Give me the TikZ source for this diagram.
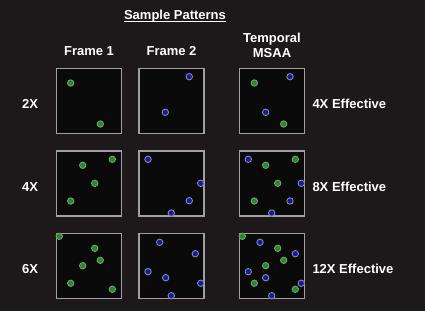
\documentclass[tikz,border=0pt]{standalone}
\usepackage{fontspec}
\setmainfont{Liberation Sans}
\definecolor{bgc}{RGB}{29,24,26}
\definecolor{boxfill}{RGB}{10,10,10}
\definecolor{boxline}{RGB}{160,160,160}
\definecolor{dotline}{RGB}{140,140,140}
\definecolor{gdot}{RGB}{20,150,25}
\definecolor{bdot}{RGB}{20,20,185}
\tikzset{
  lbl/.style={text=white, font=\bfseries\fontsize{13}{15}\selectfont, inner sep=0pt},
  sbox/.style={draw=boxline, fill=boxfill, line width=1.3pt, minimum width=65pt, minimum height=65pt, inner sep=0pt},
  gd/.style={circle, draw=dotline, fill=gdot, line width=0.9pt, minimum size=6.4pt, inner sep=0pt},
  bd/.style={circle, draw=dotline, fill=bdot, line width=0.9pt, minimum size=6.4pt, inner sep=0pt}
}
\begin{document}
\begin{tikzpicture}[x=1pt,y=-1pt]
\fill[bgc] (0,0) rectangle (425,311);
\useasboundingbox (0,0) rectangle (425,311);
% title
\node[lbl, anchor=base] (title) at (175,19.6) {Sample Patterns};
\draw[white, line width=1pt] ([yshift=-2pt]title.base west) -- ([yshift=-2pt]title.base east);
% column headers
\node[lbl, anchor=base] (h1) at (89,55.3) {Frame 1};
\node[lbl, anchor=base] (h2) at (171.5,55.3) {Frame 2};
\node[lbl, align=center] (h3) at (272,45.8) {Temporal\\MSAA};
% row labels
\node[lbl, anchor=base] (r1) at (30,108) {2X};
\node[lbl, anchor=base] (r2) at (30,191.3) {4X};
\node[lbl, anchor=base] (r3) at (30,273.9) {6X};
\node[lbl, anchor=base west] (e1) at (312.3,108) {4X Effective};
\node[lbl, anchor=base west] (e2) at (312.3,191.3) {8X Effective};
\node[lbl, anchor=base west] (e3) at (312.3,273.7) {12X Effective};
% boxes
\node[sbox] (b11) at (89.2,100.7) {};
\node[sbox] (b12) at (171.4,100.7) {};
\node[sbox] (b13) at (272.1,100.7) {};
\node[sbox] (b21) at (89.2,183.5) {};
\node[sbox] (b22) at (171.4,183.5) {};
\node[sbox] (b23) at (272.1,183.5) {};
\node[sbox] (b31) at (89.2,265.8) {};
\node[sbox] (b32) at (171.4,265.8) {};
\node[sbox] (b33) at (272.1,265.8) {};
% row 1 dots
\node[gd] (d11a) at (70.7,83) {};
\node[gd] (d11b) at (100.3,124) {};
\node[bd] (d12a) at (189.3,76.7) {};
\node[bd] (d12b) at (165.3,112.3) {};
\node[gd] (d13a) at (254.3,83) {};
\node[bd] (d13b) at (290,76.7) {};
\node[bd] (d13c) at (265.7,112.3) {};
\node[gd] (d13d) at (283.7,124) {};
% row 2 dots
\node[gd] (d21a) at (112.3,159.3) {};
\node[gd] (d21b) at (82.7,165.3) {};
\node[gd] (d21c) at (94.7,183.3) {};
\node[gd] (d21d) at (70.7,201) {};
\node[bd] (d22a) at (148,159.3) {};
\node[bd] (d22b) at (200.7,183.3) {};
\node[bd] (d22c) at (189.3,200.7) {};
\node[bd] (d22d) at (171.3,213) {};
\node[bd] (d23a) at (248.3,159.3) {};
\node[gd] (d23b) at (295.3,159.3) {};
\node[gd] (d23c) at (265.7,165.3) {};
\node[gd] (d23d) at (277.7,183.3) {};
\node[bd] (d23e) at (301.3,183.3) {};
\node[gd] (d23f) at (254.3,201) {};
\node[bd] (d23g) at (290,201) {};
\node[bd] (d23h) at (271.7,213) {};
% row 3 dots
\node[gd] (d31a) at (59.3,236.3) {};
\node[gd] (d31b) at (94.7,248.3) {};
\node[gd] (d31c) at (100.3,260.3) {};
\node[gd] (d31d) at (82.7,265.7) {};
\node[gd] (d31e) at (70.7,283.3) {};
\node[gd] (d31f) at (112.3,289.3) {};
\node[bd] (d32a) at (159.7,242.3) {};
\node[bd] (d32b) at (195.3,253.7) {};
\node[bd] (d32c) at (148,271.7) {};
\node[bd] (d32d) at (165.7,277.7) {};
\node[bd] (d32e) at (200.7,283.3) {};
\node[bd] (d32f) at (171.3,295.7) {};
\node[gd] (d33a) at (242.3,236.3) {};
\node[bd] (d33b) at (260,242.3) {};
\node[gd] (d33c) at (277.7,248.3) {};
\node[bd] (d33d) at (295.3,253.7) {};
\node[gd] (d33e) at (283.7,260.3) {};
\node[gd] (d33f) at (265.7,265.7) {};
\node[bd] (d33g) at (248.3,271.7) {};
\node[bd] (d33h) at (265.7,277.7) {};
\node[gd] (d33i) at (254.3,283.3) {};
\node[bd] (d33j) at (301.3,283.3) {};
\node[gd] (d33k) at (295.3,289.3) {};
\node[bd] (d33l) at (271.7,295.7) {};
\end{tikzpicture}
\end{document}
